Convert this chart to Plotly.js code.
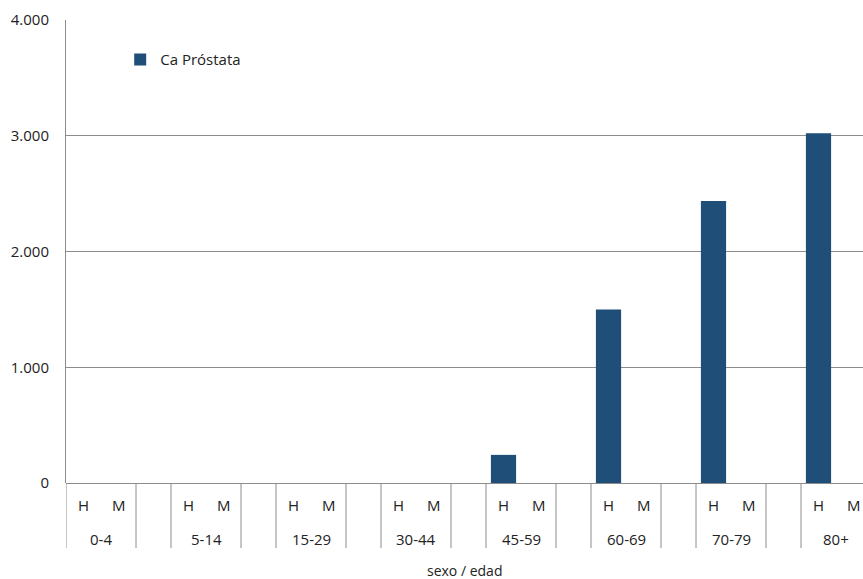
<!DOCTYPE html>
<html>
<head>
<meta charset="utf-8">
<script src="https://cdn.plot.ly/plotly-3.0.1.min.js"></script>
<style>html,body{margin:0;padding:0;background:#fff;}#chart{width:863px;height:579px;}</style>
</head>
<body>
<div id="chart"></div>
<script>
// Data
var groups = ['0-4', '5-14', '15-29', '30-44', '45-59', '60-69', '70-79', '80+'];
var sexes = ['H', 'M'];
var valuesH = [0, 0, 0, 0, 243, 1498, 2436, 3021];
var valuesM = [0, 0, 0, 0, 0, 0, 0, 0];
var seriesName = 'Ca Próstata';
var xTitle = 'sexo / edad';
var yTicks = [0, 1000, 2000, 3000, 4000];

// Build positions: each group occupies H, M, and a blank spacer slot
var xs = [], ys = [];
groups.forEach(function (g, gi) {
  xs.push(gi * 3);     ys.push(valuesH[gi]);
  xs.push(gi * 3 + 1); ys.push(valuesM[gi]);
});

var fam = 'Open Sans, sans-serif';
var font = {family: fam, size: 15, color: '#222'};
var gridColor = '#8c8c8c';

var annotations = [];
var shapes = [];
groups.forEach(function (g, gi) {
  sexes.forEach(function (s, si) {
    annotations.push({x: gi * 3 + si, y: 0, xref: 'x', yref: 'paper', text: s,
      showarrow: false, yanchor: 'middle', yshift: -22, font: font});
  });
  annotations.push({x: gi * 3 + 0.5, y: 0, xref: 'x', yref: 'paper', text: g,
    showarrow: false, yanchor: 'middle', yshift: -56, font: font});
  [gi * 3 + 1.5, gi * 3 + 2.5].forEach(function (sx) {
    shapes.push({type: 'line', xref: 'x', yref: 'paper', x0: sx, x1: sx,
      y0: 0, y1: -0.1404, line: {color: gridColor, width: 1}});
  });
});
shapes.push({type: 'line', xref: 'x', yref: 'paper', x0: -0.5, x1: -0.5,
  y0: 0, y1: -0.1404, line: {color: gridColor, width: 1}});
annotations.push({x: 0.5, y: 0, xref: 'paper', yref: 'paper', text: xTitle,
  showarrow: false, yanchor: 'middle', yshift: -87, font: {family: fam, size: 14, color: '#222'}});

var trace = {
  type: 'bar',
  x: xs,
  y: ys,
  name: seriesName,
  width: 0.72,
  marker: {color: '#1f4e79', line: {width: 0}},
  showlegend: true,
  hoverinfo: 'skip'
};

var layout = {
  width: 863,
  height: 579,
  margin: {l: 66, r: 0, t: 20, b: 96, pad: 0},
  paper_bgcolor: '#fff',
  plot_bgcolor: '#fff',
  separators: ',.',
  font: font,
  showlegend: true,
  legend: {x: 0.068, y: 0.95, xanchor: 'left', yanchor: 'top', bgcolor: 'rgba(0,0,0,0)',
    font: {family: fam, size: 15, color: '#222'}, itemwidth: 30},
  xaxis: {
    range: [-0.5, -0.5 + 797 / 35],
    showticklabels: false,
    ticks: '',
    showgrid: false,
    zeroline: false,
    showline: false,
    fixedrange: true
  },
  yaxis: {
    range: [0, 4000],
    tickvals: yTicks,
    tickformat: ',d',
    showgrid: true,
    gridcolor: gridColor,
    gridwidth: 1,
    zeroline: true,
    zerolinecolor: gridColor,
    zerolinewidth: 1,
    showline: true,
    linecolor: gridColor,
    linewidth: 1,
    ticks: '',
    ticklabelstandoff: 13,
    tickfont: {family: fam, size: 15, color: '#222'},
    fixedrange: true
  },
  annotations: annotations,
  shapes: shapes
};

Plotly.newPlot('chart', [trace], layout, {displayModeBar: false, staticPlot: true});
</script>
</body>
</html>
